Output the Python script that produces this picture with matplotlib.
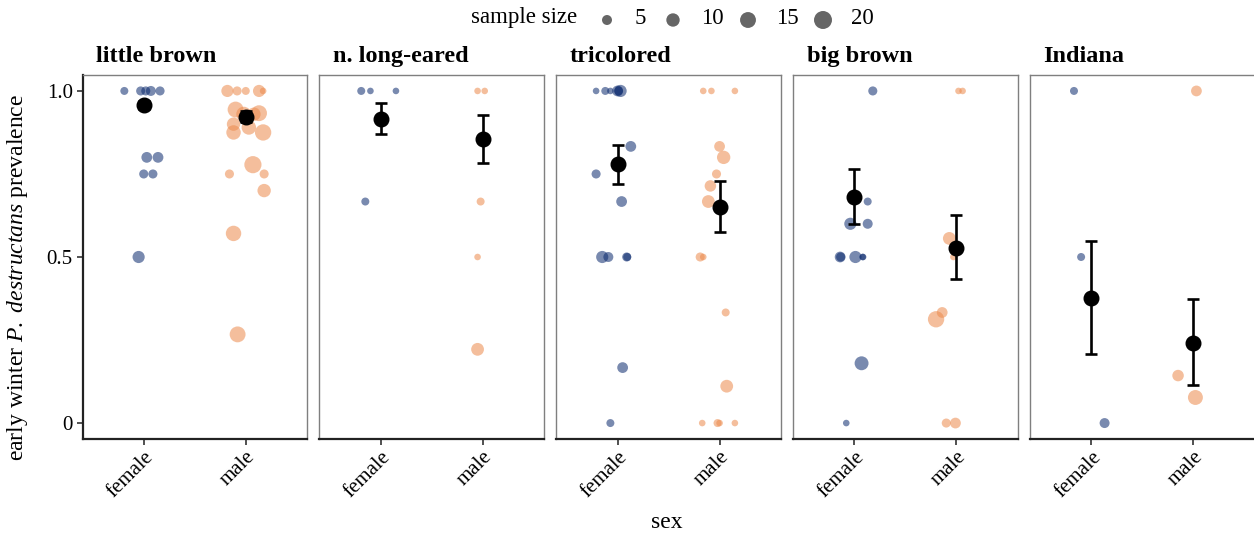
import numpy as np
import matplotlib
matplotlib.use("Agg")
import matplotlib.pyplot as plt

plt.rcParams['font.family'] = ['Liberation Serif', 'DejaVu Serif']
plt.rcParams['mathtext.fontset'] = 'custom'
plt.rcParams['mathtext.rm'] = 'Liberation Serif'
plt.rcParams['mathtext.it'] = 'Liberation Serif:italic'

# ---------------- data ----------------
species = ["little brown", "n. long-eared", "tricolored", "big brown", "Indiana"]
sexes = ["female", "male"]

# per-colony points: jitter offset (x, category units), prevalence, sample size
f_jit = [
    [-0.19, -0.03, 0.02, 0.07, 0.16, 0.03, 0.14, 0.00, 0.09, -0.05],
    [-0.19, -0.10, 0.15, -0.15],
    [-0.21, -0.12, -0.07, 0.00, 0.03, 0.01, 0.13, -0.21, 0.04, -0.15, -0.09, 0.09, 0.095, 0.05, -0.07],
    [0.18, 0.13, -0.04, 0.13, -0.14, -0.135, 0.01, 0.08, 0.085, 0.07, -0.08],
    [-0.17, -0.10, 0.13],
]
f_prev = [
    [1.0, 1.0, 1.0, 1.0, 1.0, 0.8, 0.8, 0.75, 0.75, 0.5],
    [1.0, 1.0, 1.0, 0.667],
    [1.0, 1.0, 1.0, 1.0, 1.0, 1.0, 0.833, 0.75, 0.667, 0.5, 0.5, 0.5, 0.5, 0.167, 0.0],
    [1.0, 0.667, 0.6, 0.6, 0.5, 0.5, 0.5, 0.5, 0.5, 0.18, 0.0],
    [1.0, 0.5, 0.0],
]
f_n = [
    [3, 4, 4, 5, 4, 6, 6, 4, 4, 8],
    [3, 2, 2, 3],
    [2, 3, 2, 6, 8, 4, 6, 4, 6, 8, 5, 4, 3, 6, 3],
    [4, 3, 8, 5, 6, 4, 8, 2, 2, 11, 2],
    [3, 3, 5],
]
m_jit = [
    [-0.18, -0.085, 0.00, 0.13, 0.17, -0.10, 0.13, -0.02, -0.12, 0.03, 0.17, -0.12, 0.08,
     0.07, -0.16, 0.18, 0.18, -0.12, -0.08],
    [-0.05, 0.02, -0.02, -0.05, -0.05],
    [-0.16, -0.08, 0.15, 0.00, 0.04, -0.03, -0.09, -0.11, -0.19, -0.16, 0.06, 0.07, -0.17, -0.02, 0.0, 0.15],
    [0.02, 0.06, -0.07, -0.03, -0.20, -0.14, -0.10, -0.01],
    [0.03, -0.15, 0.02],
]
m_prev = [
    [1.0, 1.0, 1.0, 1.0, 1.0, 0.944, 0.933, 0.93, 0.90, 0.89, 0.875, 0.875, 0.93,
     0.778, 0.75, 0.75, 0.70, 0.571, 0.267],
    [1.0, 1.0, 0.667, 0.5, 0.222],
    [1.0, 1.0, 1.0, 0.833, 0.8, 0.75, 0.714, 0.667, 0.5, 0.5, 0.333, 0.111, 0.0, 0.0, 0.0, 0.0],
    [1.0, 1.0, 0.556, 0.5, 0.3125, 0.333, 0.0, 0.0],
    [1.0, 0.143, 0.077],
]
m_n = [
    [8, 4, 3, 8, 2, 15, 15, 13, 10, 12, 16, 12, 10, 18, 4, 4, 10, 14, 15],
    [2, 2, 3, 2, 9],
    [2, 2, 2, 6, 10, 4, 7, 9, 4, 2, 3, 9, 2, 3, 2, 2],
    [2, 2, 9, 2, 16, 6, 4, 6],
    [6, 7, 13],
]

# model estimates with confidence intervals
f_mean = [0.958, 0.917, 0.779, 0.681, 0.377]
f_lo = [0.946, 0.871, 0.719, 0.598, 0.209]
f_hi = [0.970, 0.963, 0.837, 0.764, 0.548]
m_mean = [0.922, 0.854, 0.652, 0.528, 0.242]
m_lo = [0.905, 0.782, 0.575, 0.434, 0.114]
m_hi = [0.940, 0.928, 0.729, 0.627, 0.374]

legend_sizes = [5, 10, 15, 20]
y_ticks = [0, 0.5, 1.0]
y_ticklabels = ["0", "0.5", "1.0"]

# ---------------- style ----------------
W, H, DPI = 1254, 537, 100
F_COL = "#0B2A6E"
M_COL = "#EC8A4C"
ALPHA = 0.55
FS_TICK = 14.5
FS_TITLE = 17.5
FS_LAB = 17.0
FS_LEG = 16.5


def size_pts2(n):
    d_px = 3.2 + 3.39 * np.sqrt(np.maximum(np.asarray(n, float) - 1, 0))
    return (d_px * 72.0 / DPI) ** 2


fig = plt.figure(figsize=(W / DPI, H / DPI), dpi=DPI)

panel_left0 = 82.5
panel_step = 236.9
panel_w = 224.5
panel_top = 75
panel_bot = 439

axes = []
for i, sp in enumerate(species):
    l = (panel_left0 + i * panel_step) / W
    b = (H - panel_bot) / H
    ax = fig.add_axes([l, b, panel_w / W, (panel_bot - panel_top) / H])
    axes.append(ax)

    ax.scatter(1 + np.array(f_jit[i]), f_prev[i], s=size_pts2(f_n[i]), color=F_COL,
               alpha=ALPHA, edgecolors='none', zorder=2)
    ax.scatter(2 + np.array(m_jit[i]), m_prev[i], s=size_pts2(m_n[i]), color=M_COL,
               alpha=ALPHA, edgecolors='none', zorder=2)

    means = [f_mean[i], m_mean[i]]
    lows = [f_lo[i], m_lo[i]]
    highs = [f_hi[i], m_hi[i]]
    yerr = np.array([[m - lo for m, lo in zip(means, lows)],
                     [hi - m for m, hi in zip(means, highs)]])
    ax.errorbar([1, 2], means, yerr=yerr, fmt='o', color='black', markersize=10.5,
                elinewidth=1.9, capsize=4.3, capthick=1.9, zorder=4)

    ax.set_xlim(0.4, 2.6)
    ax.set_ylim(-0.048, 1.048)
    ax.set_xticks([1, 2])
    ax.set_xticklabels(sexes, rotation=45, ha='right', va='top',
                       rotation_mode='anchor', fontsize=FS_TICK + 0.5)
    for lab in ax.get_xticklabels():
        lab.set_transform(lab.get_transform() + matplotlib.transforms.ScaledTranslation(
            6 / DPI, 0, fig.dpi_scale_trans))
    ax.tick_params(axis='x', length=4, width=1.2, colors='#333333', pad=2,
                   labelcolor='black')

    for s in ['top', 'right', 'left']:
        ax.spines[s].set_color('#7f7f7f')
        ax.spines[s].set_linewidth(1.0)
    ax.spines['bottom'].set_color('#222222')
    ax.spines['bottom'].set_linewidth(1.6)

    if i == 0:
        ax.set_yticks(y_ticks)
        ax.set_yticklabels(y_ticklabels, fontsize=FS_TICK + 0.5)
        ax.tick_params(axis='y', length=4, width=1.2, colors='#333333', pad=3,
                       labelcolor='black')
        ax.spines['left'].set_color('#222222')
        ax.spines['left'].set_linewidth(1.6)
    else:
        ax.set_yticks([])

    ax.text(0.06, 1.022, sp, transform=ax.transAxes, fontsize=FS_TITLE,
            fontweight='bold', ha='left', va='bottom')

# axis labels
fig.text(18 / W, 1 - 277 / H, r"early winter $\mathit{P.\ destructans}$ prevalence",
         rotation=90, ha='center', va='center', fontsize=FS_LAB)
fig.text(667 / W, 1 - 523 / H, "sex", ha='center', va='center', fontsize=FS_LAB)

# size legend at the top
lax = fig.add_axes([0, 0, 1, 1], zorder=-1)
lax.set_xlim(0, W)
lax.set_ylim(H, 0)
lax.axis('off')
lax.text(524, 18, "sample size", ha='center', va='center', fontsize=FS_LEG)
leg_dot_x = [607, 673, 748, 823]
leg_txt_x = [640, 712, 787, 862]
for sz, xd, xt in zip(legend_sizes, leg_dot_x, leg_txt_x):
    lax.scatter([xd], [20], s=size_pts2([sz]), color='black', alpha=0.6, edgecolors='none')
    lax.text(xt, 18, str(sz), ha='center', va='center', fontsize=FS_LEG)

fig.savefig("out.png", dpi=DPI)
